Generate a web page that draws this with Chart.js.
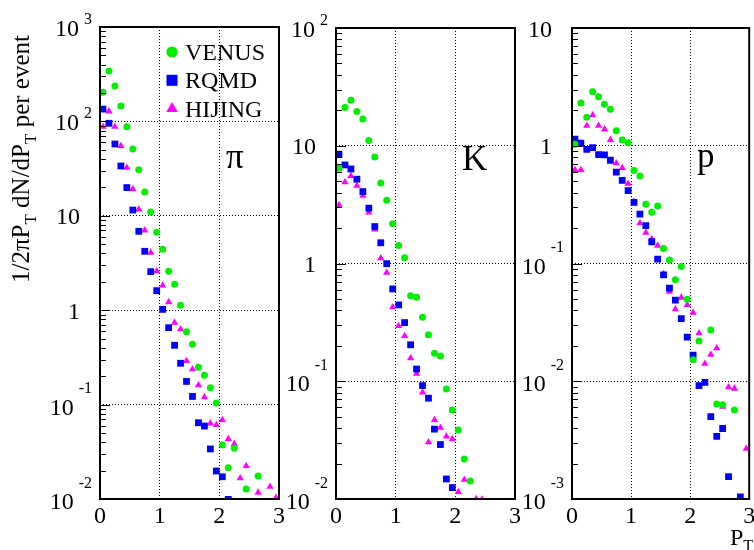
<!DOCTYPE html>
<html>
<head>
<meta charset="utf-8">
<title>Identified particle spectra</title>
<script src="https://cdn.jsdelivr.net/npm/chart.js@4/dist/chart.umd.min.js"></script>
<style>
  html, body { margin: 0; padding: 0; background: #fff; }
  #wrap { position: relative; width: 754px; height: 550px; overflow: hidden; }
  #wrap canvas { position: absolute; left: 0; top: 0; }
</style>
</head>
<body>
<div id="wrap">
  <canvas id="chart-pi" width="754" height="550"></canvas>
  <canvas id="chart-k" width="754" height="550"></canvas>
  <canvas id="chart-p" width="754" height="550"></canvas>
</div>
<script>
// ── Data ───────────────────────────────────────────────────
// P_T bin centres (GeV/c), shared by all three species
const PT_BINS = [0.05, 0.15, 0.25, 0.35, 0.45, 0.55, 0.65, 0.75, 0.85, 0.95,
                 1.05, 1.15, 1.25, 1.35, 1.45, 1.55, 1.65, 1.75, 1.85, 1.95,
                 2.05, 2.15, 2.25, 2.35, 2.45, 2.55, 2.65, 2.75, 2.85, 2.95];

const MODELS = ['VENUS', 'RQMD', 'HIJING'];

// pions
const PI_VENUS  = [203, 342, 237, 146, 88, 51, 30.8, 17.9, 11.0, 6.68,
                   4.42, 2.58, 1.88, 1.13, 0.592, 0.435, 0.248, 0.204, 0.151, 0.104,
                   0.0373, 0.0214, 0.0344, null, 0.0128, null, 0.0175, null, null, null];
const PI_RQMD   = [135, 95.5, 57.6, 33.7, 19.9, 11.5, 6.85, 4.21, 2.56, 1.61,
                   1.02, 0.653, 0.425, 0.274, 0.176, 0.122, 0.0643, 0.0593, 0.0339, 0.0198,
                   0.0172, 0.0099, null, null, null, null, null, null, null, null];
const PI_HIJING = [87.9, 128, 87.9, 54.9, 32.3, 19.2, 11.7, 7.02, 4.06, 2.60,
                   1.83, 1.22, 0.738, 0.628, 0.290, 0.237, 0.161, 0.120, 0.0634, 0.0608,
                   0.0687, 0.0433, 0.0383, 0.0166, 0.0224, null, 0.0117, null, 0.0135, 0.0103];

// kaons
const K_VENUS  = [6.44, 21.1, 24.3, 19.5, 16.9, 11.1, 8.04, 4.83, 3.44, 2.18,
                  1.42, 1.12, 0.531, 0.518, 0.350, 0.248, 0.173, 0.164, 0.0861, 0.0569,
                  0.0385, 0.0219, 0.0142, null, null, null, null, null, null, null];
const K_RQMD   = [8.47, 6.87, 6.35, 5.20, 4.08, 2.95, 2.06, 1.50, 0.997, 0.608,
                  0.445, 0.315, 0.204, 0.127, 0.0918, 0.0718, 0.0392, 0.0290, 0.0148, 0.0125,
                  null, null, null, null, null, null, null, null, null, null];
const K_HIJING = [3.14, 4.90, 5.54, 4.58, 3.77, 2.71, 1.95, 1.11, 0.837, 0.426,
                  0.295, 0.243, 0.157, 0.116, 0.0805, 0.0304, 0.0470, 0.0404, 0.0340, 0.0323,
                  0.0115, 0.0146, null, 0.0100, 0.0099, null, null, null, null, null];

// protons
const P_VENUS  = [1.03, 2.31, 1.75, 2.88, 2.61, 2.25, 2.04, 1.34, 1.12, 1.06,
                  0.615, 0.554, 0.319, 0.272, 0.308, 0.134, 0.107, 0.0726, 0.0942, 0.0498,
                  0.0152, 0.0220, null, 0.0272, 0.00640, 0.00631, null, 0.00569, null, null];
const P_RQMD   = [1.14, 1.05, 0.933, 0.964, 0.840, 0.835, 0.753, 0.596, 0.509, 0.416,
                  0.330, 0.263, 0.210, 0.153, 0.109, 0.0800, 0.0617, 0.0488, 0.0340, 0.0237,
                  0.0167, 0.00919, 0.00979, 0.00501, 0.00340, 0.00397, 0.00155, null, 0.00104, null];
const P_HIJING = [0.623, 0.623, 1.48, 1.82, 1.48, 1.38, 1.12, 0.710, 0.648, 0.477,
                  0.335, 0.220, 0.183, 0.162, 0.142, 0.0817, 0.0577, 0.0409, 0.0514, 0.0446,
                  0.0383, 0.0256, 0.0141, 0.0168, 0.0191, 0.00610, 0.00891, 0.00867, null, 0.00268];

const X_TICKS = [0, 1, 2, 3];

// ── Styling ────────────────────────────────────────────────
const SERIF = "'Liberation Serif', 'DejaVu Serif', serif";
const STYLES = [
  { color: '#00ee00', pointStyle: 'circle',   radius: 3.5, legendRadius: 5.6 },
  { color: '#0000ff', pointStyle: 'rect',     radius: 4.8, legendRadius: 7.8 },
  { color: '#ff00ff', pointStyle: 'triangle', radius: 4.2, legendRadius: 6.6 },
];

function toPoints(values) {
  const pts = [];
  values.forEach(function(v, i) {
    if (v !== null) pts.push({ x: PT_BINS[i], y: v });
  });
  return pts;
}

function decades(min, max) {
  const out = [];
  for (let e = Math.round(Math.log10(min)); e <= Math.round(Math.log10(max)); e++) out.push(Math.pow(10, e));
  return out;
}

// ROOT-like log labels: "1", "10", otherwise "10" with a raised exponent
function drawLogLabel(ctx, v, axisX, py) {
  const e = Math.round(Math.log10(v));
  ctx.fillStyle = '#000';
  ctx.textBaseline = 'alphabetic';
  if (e === 0 || e === 1) {
    ctx.font = '24px ' + SERIF;
    ctx.textAlign = 'right';
    ctx.fillText(e === 0 ? '1' : '10', axisX - 20, py + 8.5);
    return;
  }
  const expText = e < 0 ? '-' + (-e) : String(e);
  ctx.font = '16px ' + SERIF;
  const ew = ctx.measureText(expText).width;
  const expX = axisX - 8 - ew;
  ctx.textAlign = 'left';
  ctx.fillText(expText, expX, e < 0 ? py - 11.5 : py - 3);
  ctx.font = '24px ' + SERIF;
  ctx.textAlign = 'right';
  ctx.fillText('10', expX - 5, py + (e < 0 ? 10 : 8.5));
}

// text runs with subscripts, laid out left to right from (0, 0)
function drawRuns(ctx, runs) {
  let x = 0;
  runs.forEach(function(r) {
    ctx.font = r.size + 'px ' + SERIF;
    ctx.fillText(r.text, x, r.dy || 0);
    x += ctx.measureText(r.text).width;
  });
}

const panelDecor = {
  id: 'panelDecor',
  afterDraw(chart, args, opts) {
    const ctx = chart.ctx;
    const a = chart.chartArea;
    const xs = chart.scales.x;
    const ys = chart.scales.y;
    ctx.save();

    // minor ticks on the left axis
    ctx.strokeStyle = '#000';
    ctx.lineWidth = 1;
    ctx.beginPath();
    decades(ys.min, ys.max).forEach(function(d) {
      for (let k = 1; k <= 9; k++) {
        const v = k * d;
        if (v > ys.max * 1.0001) break;
        const py = Math.round(ys.getPixelForValue(v)) + 0.5;
        ctx.moveTo(a.left, py);
        ctx.lineTo(a.left + (k === 1 ? 10 : 6), py);
      }
    });
    ctx.stroke();

    // frame
    ctx.lineWidth = 2;
    ctx.strokeRect(a.left, a.top, a.right - a.left, a.bottom - a.top);

    // y tick labels
    decades(ys.min, ys.max).forEach(function(v) {
      drawLogLabel(ctx, v, a.left, ys.getPixelForValue(v));
    });

    // x tick labels
    ctx.font = '24px ' + SERIF;
    ctx.textAlign = 'center';
    ctx.textBaseline = 'alphabetic';
    ctx.fillStyle = '#000';
    X_TICKS.forEach(function(t) {
      ctx.fillText(String(t), xs.getPixelForValue(t), 523);
    });

    // species tag
    ctx.font = '35px ' + SERIF;
    ctx.textAlign = 'left';
    ctx.fillText(opts.tag, opts.tagX, opts.tagY);

    if (opts.legend) {
      chart.data.datasets.forEach(function(ds, i) {
        const st = STYLES[i];
        const y = 52 + 28.3 * i;
        ctx.fillStyle = st.color;
        Chart.helpers.drawPoint(ctx, { pointStyle: st.pointStyle, radius: st.legendRadius, rotation: 0, borderWidth: 0 }, 172, y);
        ctx.fillStyle = '#000';
        ctx.font = '24px ' + SERIF;
        ctx.textAlign = 'left';
        ctx.fillText(ds.label, 185, y + 8);
      });
    }

    if (opts.yTitle) {
      ctx.save();
      ctx.translate(29, 283);
      ctx.rotate(-Math.PI / 2);
      ctx.textAlign = 'left';
      ctx.fillStyle = '#000';
      drawRuns(ctx, [
        { text: '1/2\u03c0P', size: 25 },
        { text: 'T', size: 17, dy: 7 },
        { text: ' dN/dP', size: 25 },
        { text: 'T', size: 17, dy: 7 },
        { text: ' per event', size: 25 },
      ]);
      ctx.restore();
    }

    if (opts.xTitle) {
      ctx.save();
      ctx.translate(730, 545);
      ctx.textAlign = 'left';
      ctx.fillStyle = '#000';
      drawRuns(ctx, [
        { text: 'P', size: 24 },
        { text: 'T', size: 16, dy: 6 },
      ]);
      ctx.restore();
    }

    ctx.restore();
  }
};

function makePanel(id, series, yMin, yMax, area, decor) {
  const datasets = series.map(function(values, i) {
    const st = STYLES[i];
    return {
      label: MODELS[i],
      data: toPoints(values),
      pointStyle: st.pointStyle,
      pointRadius: st.radius,
      pointHoverRadius: st.radius,
      backgroundColor: st.color,
      borderColor: st.color,
      pointBorderWidth: 0,
      showLine: false,
      clip: 0,
    };
  });
  const dotted = { color: '#000', lineWidth: 1, drawTicks: false };
  return new Chart(document.getElementById(id), {
    type: 'scatter',
    data: { datasets: datasets },
    options: {
      responsive: false,
      animation: false,
      events: [],
      layout: { padding: { left: area.left, top: area.top, right: 754 - area.right, bottom: 550 - area.bottom } },
      plugins: { legend: { display: false }, tooltip: { enabled: false }, panelDecor: decor },
      scales: {
        x: {
          type: 'linear', min: 0, max: 3,
          ticks: { display: false, stepSize: 1 },
          grid: dotted,
          border: { display: false, dash: [1, 2] },
          afterFit: function(s) { s.height = 0; },
        },
        y: {
          type: 'logarithmic', min: yMin, max: yMax,
          ticks: { display: false },
          grid: dotted,
          border: { display: false, dash: [1, 2] },
          afterFit: function(s) { s.width = 0; },
          afterBuildTicks: function(s) {
            s.ticks = decades(yMin, yMax).map(function(v) { return { value: v }; });
          },
        },
      },
    },
    plugins: [panelDecor],
  });
}

makePanel('chart-pi', [PI_VENUS, PI_RQMD, PI_HIJING], 1e-2, 1e3,
  { left: 100, right: 279, top: 27, bottom: 499 },
  { tag: '\u03c0', tagX: 226, tagY: 168, legend: true, yTitle: true });

makePanel('chart-k', [K_VENUS, K_RQMD, K_HIJING], 1e-2, 1e2,
  { left: 336, right: 515, top: 28, bottom: 499 },
  { tag: 'K', tagX: 462, tagY: 170 });

makePanel('chart-p', [P_VENUS, P_RQMD, P_HIJING], 1e-3, 1e1,
  { left: 572, right: 752, top: 28, bottom: 499 },
  { tag: 'p', tagX: 697, tagY: 167, xTitle: true });
</script>
</body>
</html>
